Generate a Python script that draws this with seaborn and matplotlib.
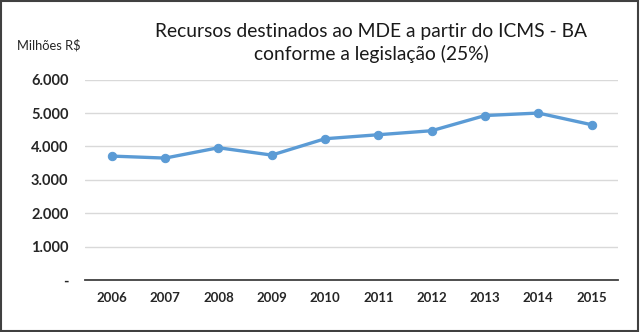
import matplotlib
matplotlib.use("Agg")
import matplotlib.pyplot as plt
import seaborn as sns
import pandas as pd
from matplotlib.patches import Rectangle

years = ["2006", "2007", "2008", "2009", "2010", "2011", "2012", "2013", "2014", "2015"]
values = [3710, 3650, 3960, 3740, 4230, 4350, 4470, 4925, 5000, 4650]
yticks = [0, 1000, 2000, 3000, 4000, 5000, 6000]
ytick_labels = ["-", "1.000", "2.000", "3.000", "4.000", "5.000", "6.000"]

sns.set_theme(style="white")
plt.rcParams['font.family'] = ['Lato', 'DejaVu Sans']

df = pd.DataFrame({"ano": list(range(len(years))), "valor": values})

fig = plt.figure(figsize=(6.4, 3.32), dpi=100)
ax = fig.add_axes([0.133, 0.157, 0.833, 0.603])

sns.lineplot(data=df, x="ano", y="valor", ax=ax, color="#5B9BD5", linewidth=2.4,
             marker="o", markersize=6, markeredgecolor="#5B9BD5")

ax.set_xlim(-0.5, len(years) - 0.5)
ax.set_ylim(0, 6000)
ax.set_xticks(range(len(years)))
ax.set_xticklabels(years, fontsize=9.5, fontweight="bold", color="#262626")
ax.set_yticks(yticks)
ax.set_yticklabels(ytick_labels, fontsize=10.5, fontweight="bold", color="#262626")
ax.set_xlabel("")
ax.set_ylabel("")
ax.tick_params(axis="both", length=0, pad=9)
ax.tick_params(axis="y", pad=12)
ax.grid(axis="y", color="#D9D9D9", linewidth=1)
for s in ["top", "right", "left"]:
    ax.spines[s].set_visible(False)
ax.spines["bottom"].set_color("#404040")
ax.spines["bottom"].set_linewidth(1.3)

fig.text(0.58, 0.93, "Recursos destinados ao MDE a partir do ICMS - BA\nconforme a legislação (25%)",
         ha="center", va="top", fontsize=13.9, color="#1a1a1a", linespacing=1.32)
fig.text(0.027, 0.865, "Milhões R$", ha="left", va="center", fontsize=9.3, color="#262626")

fig.patches.append(Rectangle((0.002, 0.003), 0.995, 0.994, transform=fig.transFigure,
                             fill=False, edgecolor="#404040", linewidth=1.5))

fig.savefig("out.png", dpi=100)
